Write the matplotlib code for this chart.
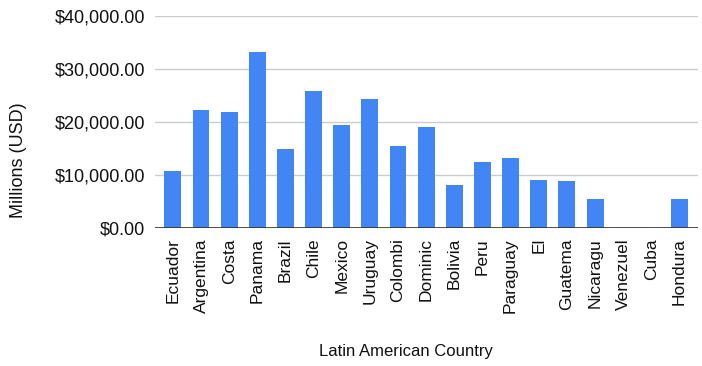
import matplotlib.pyplot as plt
from matplotlib.ticker import FuncFormatter

plt.rcParams['font.family'] = ['Liberation Sans', 'DejaVu Sans']

countries = ['Ecuador', 'Argentina', 'Costa', 'Panama', 'Brazil', 'Chile', 'Mexico',
             'Uruguay', 'Colombi', 'Dominic', 'Bolivia', 'Peru', 'Paraguay', 'El',
             'Guatema', 'Nicaragu', 'Venezuel', 'Cuba', 'Hondura']
values = [10800, 22400, 21900, 33200, 15000, 25800, 19400,
          24300, 15500, 19100, 8100, 12500, 13300, 9200,
          8900, 5600, 0, 0, 5600]
y_ticks = [0, 10000, 20000, 30000, 40000]

fig = plt.figure(figsize=(7.02, 3.66), dpi=100)
ax = fig.add_axes([0.221, 0.376, 0.773, 0.580])

x = range(len(countries))
ax.bar(x, values, width=0.6, color='#4285F4', zorder=3)

ax.set_xlim(-0.63, len(countries) - 0.35)
ax.set_ylim(0, 40000)
ax.set_yticks(y_ticks)
ax.yaxis.set_major_formatter(FuncFormatter(lambda v, p: '${:,.2f}'.format(v)))
ax.set_xticks(list(x))
ax.set_xticklabels(countries, rotation=90, fontsize=12.5, color='#111111')
ax.tick_params(axis='y', length=0, pad=7, labelsize=13, labelcolor='#111111')
ax.tick_params(axis='x', length=0, pad=7)

ax.grid(axis='y', color='#cccccc', linewidth=1, zorder=0)
ax.axhline(0, color='#333333', linewidth=1.2, zorder=4)
for s in ax.spines.values():
    s.set_visible(False)

ax.set_ylabel('Millions (USD)', fontsize=13, color='#111111')
ax.yaxis.set_label_coords(-0.252, 0.319)
ax.set_xlabel('Latin American Country', fontsize=12, color='#111111')
ax.xaxis.set_label_coords(0.462, -0.58)
ax.xaxis.label.set_va('center')
ax.yaxis.label.set_va('center')

fig.savefig('out.png', dpi=100)
